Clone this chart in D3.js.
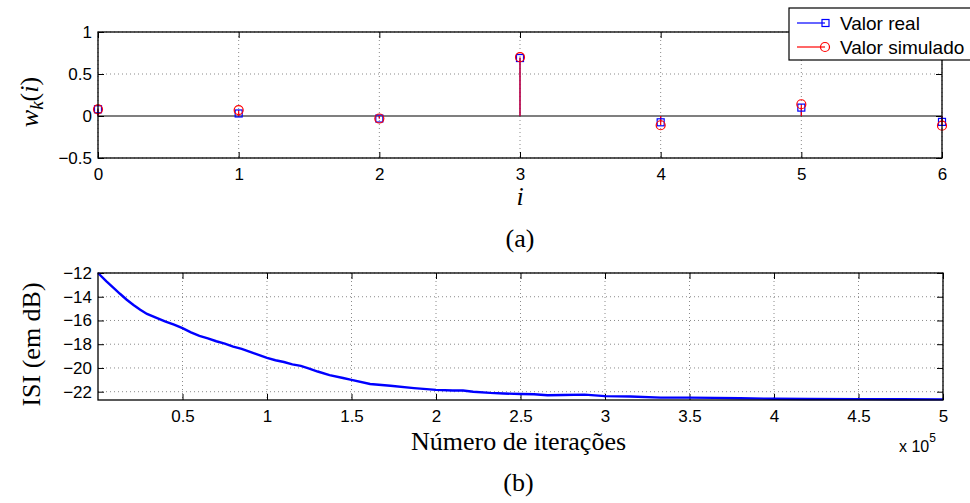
<!DOCTYPE html>
<html>
<head>
<meta charset="utf-8">
<script src="https://cdn.jsdelivr.net/npm/d3@7"></script>
<style>
  body { margin: 0; background: #fff; }
  svg { display: block; }
  .tick text { font-family: "Liberation Sans", Arial, sans-serif; font-size: 17px; fill: #000; }
  .domain { display: none; }
  .tick line { stroke: #000; stroke-width: 1; }
  .grid line { stroke: #8a8a8a; stroke-width: 1; stroke-dasharray: 1,3; }
  .lbl { font-family: "Liberation Serif", "Times New Roman", serif; font-size: 26px; fill: #000; }
</style>
</head>
<body>
<svg id="fig" width="970" height="503"></svg>
<script>
// (a) coefficients
const taps = [0, 1, 2, 3, 4, 5, 6];
const wReal = [0.08, 0.03, -0.03, 0.69, -0.075, 0.10, -0.07];
const wSim = [0.08, 0.07, -0.03, 0.70, -0.11, 0.14, -0.115];
const topYTicks = [-0.5, 0, 0.5, 1];

// (b) ISI curve, iterations in units of 1e5
const iters = [0.00, 0.05, 0.10, 0.13, 0.17, 0.21, 0.25, 0.29, 0.35, 0.40, 0.45, 0.50, 0.55, 0.60, 0.65,
  0.70, 0.75, 0.80, 0.85, 0.90, 0.95, 1.00, 1.05, 1.10, 1.15, 1.20, 1.25, 1.30, 1.37, 1.45, 1.50, 1.61,
  1.73, 1.87, 2.00, 2.10, 2.16, 2.22, 2.32, 2.40, 2.50, 2.58, 2.66, 2.75, 2.88, 3.00, 3.15, 3.33, 3.50,
  3.65, 3.80, 4.00, 4.20, 4.50, 4.75, 5.00];
const isiDb = [-12.0, -12.7, -13.35, -13.75, -14.25, -14.7, -15.1, -15.45, -15.8, -16.1, -16.35, -16.65,
  -17.0, -17.3, -17.5, -17.75, -17.95, -18.2, -18.4, -18.65, -18.9, -19.15, -19.35, -19.5, -19.7,
  -19.83, -20.05, -20.3, -20.6, -20.85, -21.0, -21.35, -21.5, -21.7, -21.85, -21.9, -21.9, -22.0, -22.1,
  -22.15, -22.2, -22.22, -22.3, -22.28, -22.25, -22.37, -22.4, -22.5, -22.5, -22.52, -22.55, -22.6,
  -22.62, -22.63, -22.64, -22.65];
const botXTicks = [0.5, 1, 1.5, 2, 2.5, 3, 3.5, 4, 4.5, 5];
const botYTicks = [-22, -20, -18, -16, -14, -12];

const svg = d3.select('#fig');
const fmt = d3.format('');

// matlab style box: inward ticks on all four sides + dotted grid
function frame(g, x, y, w, h, xt, yt, hideZeroGrid) {
    g.append('g').attr('class', 'grid')
        .selectAll('line').data(xt).enter().append('line')
        .attr('x1', d => x(d)).attr('x2', d => x(d)).attr('y1', 0).attr('y2', h);
    g.append('g').attr('class', 'grid')
        .selectAll('line').data(yt.filter(d => !(hideZeroGrid && d === 0))).enter().append('line')
        .attr('x1', 0).attr('x2', w).attr('y1', d => y(d)).attr('y2', d => y(d));

    g.append('g').attr('transform', `translate(0,${h})`)
        .call(d3.axisBottom(x).tickValues(xt).tickSize(-6).tickPadding(10).tickFormat(fmt));
    g.append('g')
        .call(d3.axisTop(x).tickValues(xt).tickSize(-6).tickFormat(''));
    g.append('g')
        .call(d3.axisLeft(y).tickValues(yt).tickSize(-6).tickPadding(6).tickFormat(fmt));
    g.append('g').attr('transform', `translate(${w},0)`)
        .call(d3.axisRight(y).tickValues(yt).tickSize(-6).tickFormat(''));
}

function box(g, w, h) {
    g.append('rect').attr('width', w).attr('height', h)
        .attr('fill', 'none').attr('stroke', '#000').attr('stroke-width', 1.3);
}

// ---------- (a) ----------
const A = { left: 98, top: 32, w: 844, h: 126 };
const ga = svg.append('g').attr('transform', `translate(${A.left},${A.top})`);
const xa = d3.scaleLinear().domain([0, 6]).range([0, A.w]);
const ya = d3.scaleLinear().domain([-0.5, 1]).range([A.h, 0]);

frame(ga, xa, ya, A.w, A.h, taps, topYTicks, true);

ga.append('line').attr('x1', 0).attr('x2', A.w)
    .attr('y1', ya(0)).attr('y2', ya(0)).attr('stroke', '#000').attr('stroke-width', 1.2);

const stems = taps.map((t, i) => ({ t: t, r: wReal[i], s: wSim[i] }));

ga.selectAll('.sr').data(stems).enter().append('line')
    .attr('x1', d => xa(d.t)).attr('x2', d => xa(d.t))
    .attr('y1', ya(0)).attr('y2', d => ya(d.r))
    .attr('stroke', '#0000ff').attr('stroke-width', 1.2);
ga.selectAll('.ss').data(stems).enter().append('line')
    .attr('x1', d => xa(d.t)).attr('x2', d => xa(d.t))
    .attr('y1', ya(0)).attr('y2', d => ya(d.s))
    .attr('stroke', '#ff0000').attr('stroke-width', 1.2);
ga.selectAll('.mr').data(stems).enter().append('rect')
    .attr('x', d => xa(d.t) - 3.5).attr('y', d => ya(d.r) - 3.5)
    .attr('width', 7).attr('height', 7)
    .attr('fill', 'none').attr('stroke', '#0000ff').attr('stroke-width', 1.2);
ga.selectAll('.ms').data(stems).enter().append('circle')
    .attr('cx', d => xa(d.t)).attr('cy', d => ya(d.s)).attr('r', 4.5)
    .attr('fill', 'none').attr('stroke', '#ff0000').attr('stroke-width', 1.2);

box(ga, A.w, A.h);

// y label w_k(i)
const wl = svg.append('text').attr('class', 'lbl').attr('font-size', '28px')
    .attr('transform', 'translate(38,102) rotate(-90)')
    .attr('text-anchor', 'middle');
wl.append('tspan').attr('font-style', 'italic').text('w');
wl.append('tspan').attr('font-style', 'italic').attr('font-size', '19px').attr('dy', 5).text('k');
wl.append('tspan').attr('dy', -5).text('(');
wl.append('tspan').attr('font-style', 'italic').text('i');
wl.append('tspan').text(')');

svg.append('text').attr('class', 'lbl').attr('font-style', 'italic').attr('font-size', '23px')
    .attr('x', A.left + A.w / 2).attr('y', 205).attr('text-anchor', 'middle').text('i');
svg.append('text').attr('class', 'lbl')
    .attr('x', A.left + A.w / 2).attr('y', 247).attr('text-anchor', 'middle').text('(a)');

// legend
const lg = svg.append('g').attr('transform', 'translate(789,8)');
lg.append('rect').attr('width', 182).attr('height', 52)
    .attr('fill', '#fff').attr('stroke', '#000').attr('stroke-width', 1.2);
const legItems = [
    { name: 'Valor real', color: '#0000ff', mark: 'square' },
    { name: 'Valor simulado', color: '#ff0000', mark: 'circle' }
];
legItems.forEach((d, i) => {
    const yy = 15 + i * 24;
    lg.append('line').attr('x1', 8).attr('x2', 36).attr('y1', yy).attr('y2', yy)
        .attr('stroke', d.color).attr('stroke-width', 1.2);
    if (d.mark === 'square') {
        lg.append('rect').attr('x', 33).attr('y', yy - 3.5).attr('width', 7).attr('height', 7)
            .attr('fill', 'none').attr('stroke', d.color).attr('stroke-width', 1.2);
    } else {
        lg.append('circle').attr('cx', 36).attr('cy', yy).attr('r', 4.5)
            .attr('fill', 'none').attr('stroke', d.color).attr('stroke-width', 1.2);
    }
    lg.append('text').attr('x', 51).attr('y', yy + 7)
        .attr('font-family', '"Liberation Sans", Arial, sans-serif').attr('font-size', '19px')
        .text(d.name);
});

// ---------- (b) ----------
const B = { left: 98, top: 273, w: 845, h: 127 };
const gb = svg.append('g').attr('transform', `translate(${B.left},${B.top})`);
const xb = d3.scaleLinear().domain([0, 5]).range([0, B.w]);
const yb = d3.scaleLinear().domain([-22.7, -12]).range([B.h, 0]);

frame(gb, xb, yb, B.w, B.h, botXTicks, botYTicks, false);

const curve = iters.map((v, i) => [v, isiDb[i]]);
gb.append('path')
    .attr('d', d3.line().x(d => xb(d[0])).y(d => yb(d[1]))(curve))
    .attr('fill', 'none').attr('stroke', '#0000ff').attr('stroke-width', 2.4);

box(gb, B.w, B.h);

svg.append('text').attr('class', 'lbl')
    .attr('transform', `translate(40,${B.top + B.h / 2 + 8}) rotate(-90)`)
    .attr('text-anchor', 'middle').text('ISI (em dB)');
svg.append('text').attr('class', 'lbl')
    .attr('x', B.left + B.w / 2 - 2).attr('y', 450).attr('text-anchor', 'middle').text('Número de iterações');
const ex = svg.append('text').attr('x', 899).attr('y', 452)
    .attr('font-family', '"Liberation Sans", Arial, sans-serif').attr('font-size', '16px');
ex.append('tspan').text('x 10');
ex.append('tspan').attr('font-size', '12px').attr('dy', -10).text('5');
svg.append('text').attr('class', 'lbl')
    .attr('x', B.left + B.w / 2 - 2).attr('y', 491).attr('text-anchor', 'middle').text('(b)');
</script>
</body>
</html>
